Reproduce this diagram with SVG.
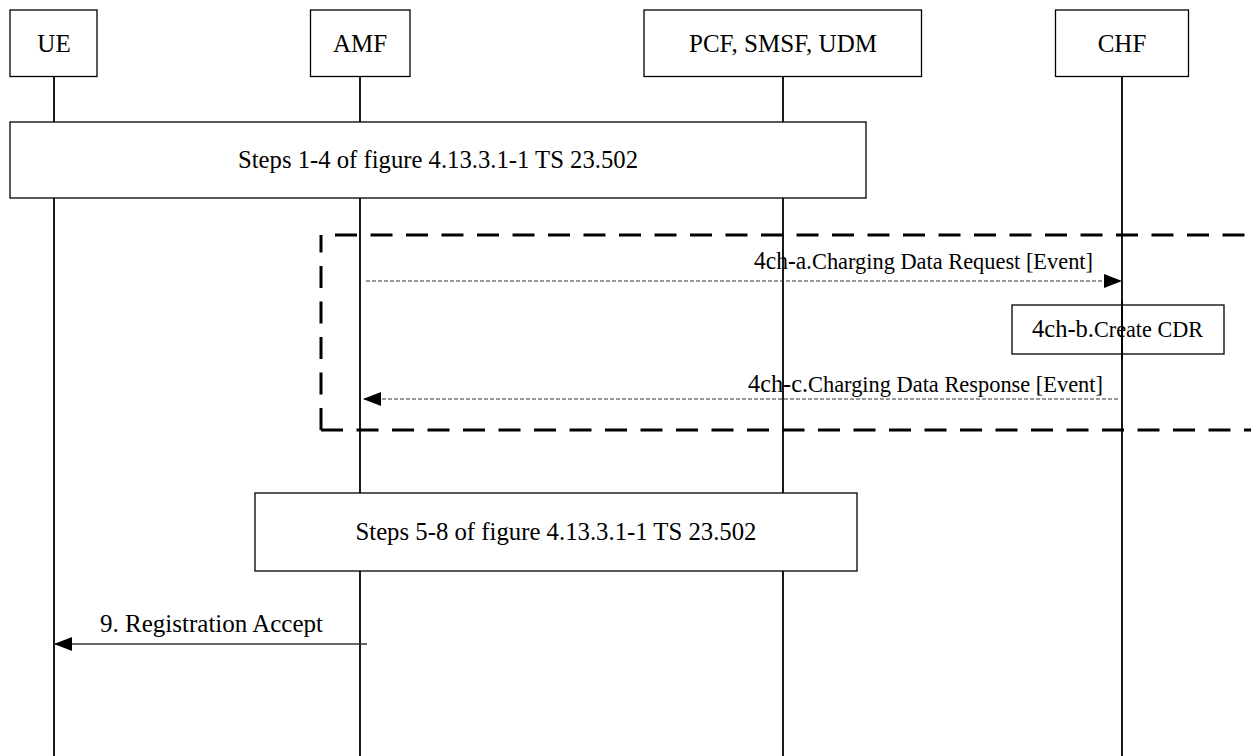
<svg xmlns="http://www.w3.org/2000/svg" width="1251" height="756" viewBox="0 0 1251 756">
<defs>
<style>
.box{fill:#fff;stroke:#000;stroke-width:1.3}
.obox{fill:none;stroke:#000;stroke-width:1.3}
.life{stroke:#000;stroke-width:1.8;fill:none}
.t{font-family:"Liberation Serif","Times New Roman",serif;fill:#000}
.msgd{stroke:#333;stroke-width:1;stroke-dasharray:4 2;fill:none}
.msg{stroke:#333;stroke-width:1.3;fill:none}
.frame{stroke:#000;stroke-width:3;stroke-dasharray:22 13.5;fill:none}
</style>
<marker id="ah" viewBox="0 0 18 14" refX="18" refY="7" markerWidth="18" markerHeight="14" markerUnits="userSpaceOnUse" orient="auto">
<path d="M0,0 L18,7 L0,14 Z" fill="#000"/>
</marker>
</defs>
<rect width="1251" height="756" fill="#fff"/>
<g id="lifelines">
<line class="life" x1="54" y1="77" x2="54" y2="756"/>
<line class="life" x1="360" y1="77" x2="360" y2="756"/>
<line class="life" x1="783" y1="77" x2="783" y2="756"/>
<line class="life" x1="1122" y1="77" x2="1122" y2="756"/>
</g>
<g id="node-ue"><rect class="box" x="10" y="10" width="87" height="66.5"/><text class="t" x="54" y="52" font-size="25" text-anchor="middle">UE</text></g>
<g id="node-amf"><rect class="box" x="310.5" y="10" width="99.5" height="66.5"/><text class="t" x="360" y="52" font-size="25" text-anchor="middle">AMF</text></g>
<g id="node-pcf"><rect class="box" x="644" y="10" width="277.5" height="66.5"/><text class="t" x="783" y="52" font-size="25" text-anchor="middle" textLength="188" lengthAdjust="spacingAndGlyphs">PCF, SMSF, UDM</text></g>
<g id="node-chf"><rect class="box" x="1055.5" y="10" width="133" height="66.5"/><text class="t" x="1122" y="52" font-size="25" text-anchor="middle">CHF</text></g>
<g id="steps1-4"><rect class="box" x="10" y="122" width="856" height="76"/><text class="t" x="438" y="168" font-size="26" text-anchor="middle" textLength="400" lengthAdjust="spacingAndGlyphs">Steps 1-4 of figure 4.13.3.1-1 TS 23.502</text></g>
<g id="frame">
<line class="frame" x1="335" y1="235" x2="1260" y2="235"/>
<line class="frame" x1="321" y1="430" x2="1260" y2="430"/>
<line class="frame" x1="321" y1="430" x2="321" y2="235"/>
</g>
<g id="create-cdr"><rect class="obox" x="1012" y="305" width="212" height="49"/><text class="t" y="337"><tspan x="1032" font-size="25" textLength="62" lengthAdjust="spacingAndGlyphs">4ch-b.</tspan><tspan x="1094" font-size="23" textLength="109" lengthAdjust="spacingAndGlyphs">Create CDR</tspan></text></g>
<line class="life" x1="1122" y1="300" x2="1122" y2="360"/>
<g id="steps5-8"><rect class="box" x="255" y="493" width="602" height="78"/><text class="t" x="556" y="540" font-size="26" text-anchor="middle" textLength="401" lengthAdjust="spacingAndGlyphs">Steps 5-8 of figure 4.13.3.1-1 TS 23.502</text></g>
<g id="connectors">
<line class="msgd" x1="366" y1="281" x2="1122" y2="281" marker-end="url(#ah)"/>
<text class="t" y="269"><tspan x="754" font-size="25" textLength="58" lengthAdjust="spacingAndGlyphs">4ch-a.</tspan><tspan x="812" font-size="23" textLength="281" lengthAdjust="spacingAndGlyphs">Charging Data Request [Event]</tspan></text>
<line class="msgd" x1="1118" y1="399" x2="363" y2="399" marker-end="url(#ah)"/>
<text class="t" y="392"><tspan x="748" font-size="25" textLength="60" lengthAdjust="spacingAndGlyphs">4ch-c.</tspan><tspan x="808" font-size="23" textLength="295" lengthAdjust="spacingAndGlyphs">Charging Data Response [Event]</tspan></text>
<line class="msg" x1="367" y1="644" x2="54" y2="644" marker-end="url(#ah)"/>
<text class="t" x="100" y="632" font-size="26" textLength="223" lengthAdjust="spacingAndGlyphs">9. Registration Accept</text>
</g>
</svg>
